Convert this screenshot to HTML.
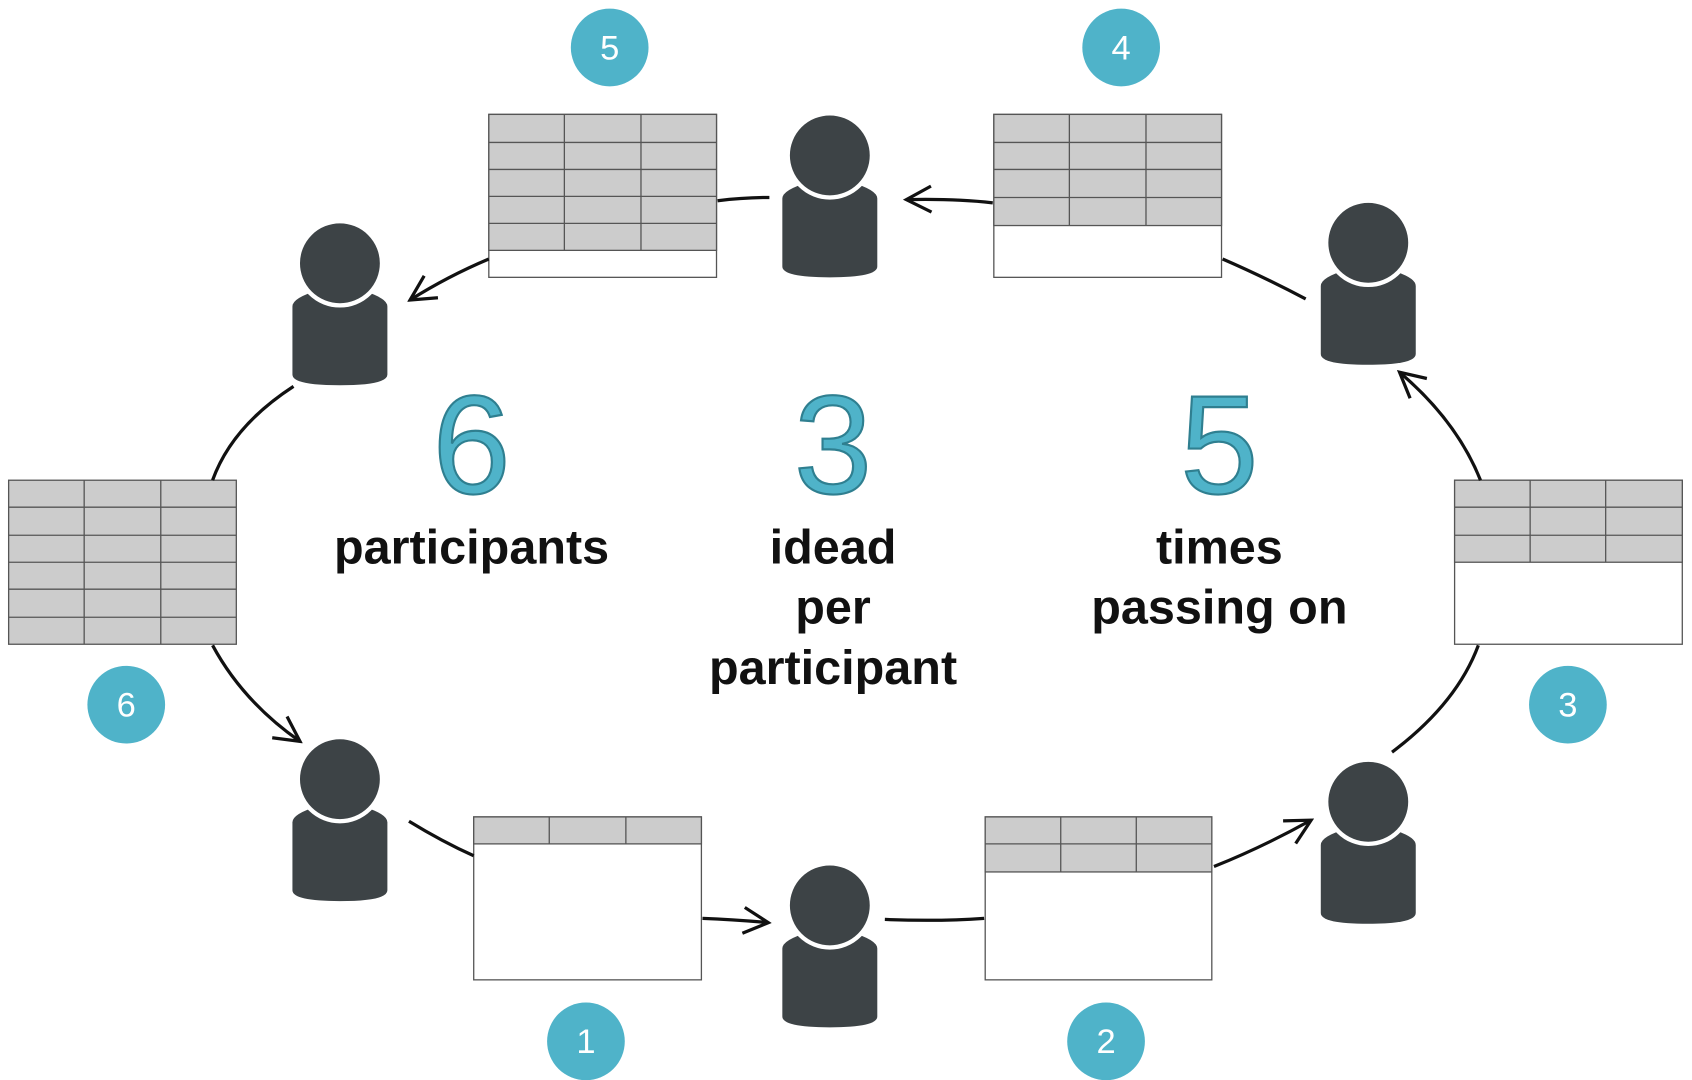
<!DOCTYPE html>
<html><head><style>
html,body{margin:0;padding:0;background:#fff;}
svg{display:block}
text{font-family:"Liberation Sans",sans-serif}
</style></head><body>
<svg width="1692" height="1080" viewBox="0 0 1568 1000.8" preserveAspectRatio="none" xmlns="http://www.w3.org/2000/svg">
<defs>
<g id="p">
<path d="M-44,40 Q-44,32 -20,25 L20,25 Q44,32 44,40 L44,103 Q44,113 0,113 Q-44,113 -44,103 Z" fill="#3d4346"/>
<circle cx="0" cy="0" r="39" fill="#3d4346" stroke="#fff" stroke-width="4"/>
</g>
<marker id="a" viewBox="0 0 30 30" refX="27" refY="15" markerWidth="30" markerHeight="30" markerUnits="userSpaceOnUse" orient="auto">
<path d="M4,3 L27,15 L4,27" fill="none" stroke="#111" stroke-width="3"/>
</marker>
</defs>

<!-- tables -->
<g stroke="#555" stroke-width="1.2">
<!-- T5 -->
<rect x="453" y="106" width="211" height="151" fill="#fff"/>
<rect x="453" y="106" width="211" height="126" fill="#cccccc"/>
<path d="M453,132H664M453,157H664M453,182H664M453,207H664M523,106V232M594,106V232" fill="none"/>
<!-- T4 -->
<rect x="921" y="106" width="211" height="151" fill="#fff"/>
<rect x="921" y="106" width="211" height="103" fill="#cccccc"/>
<path d="M921,132H1132M921,157H1132M921,183H1132M991,106V209M1062,106V209" fill="none"/>
<!-- T6 -->
<rect x="8" y="445" width="211" height="152" fill="#cccccc"/>
<path d="M8,470H219M8,496H219M8,521H219M8,546H219M8,572H219M78,445V597M149,445V597" fill="none"/>
<!-- T3 -->
<rect x="1348" y="445" width="211" height="152" fill="#fff"/>
<rect x="1348" y="445" width="211" height="76" fill="#cccccc"/>
<path d="M1348,470H1559M1348,496H1559M1418,445V521M1488,445V521" fill="none"/>
<!-- T1 -->
<rect x="439" y="757" width="211" height="151" fill="#fff"/>
<rect x="439" y="757" width="211" height="25" fill="#cccccc"/>
<path d="M509,757V782M580,757V782" fill="none"/>
<!-- T2 -->
<rect x="913" y="757" width="210" height="151" fill="#fff"/>
<rect x="913" y="757" width="210" height="51" fill="#cccccc"/>
<path d="M913,782H1123M983,757V808M1053,757V808" fill="none"/>
</g>

<!-- connectors -->
<g fill="none" stroke="#111" stroke-width="3">
<path d="M920,188 Q885,184 840,185" marker-end="url(#a)"/>
<path d="M713,183 Q690,183 665,186"/>
<path d="M453,240 Q415,256 380,278" marker-end="url(#a)"/>
<path d="M272,358 Q215,395 197,445"/>
<path d="M197,598 Q225,650 278,687" marker-end="url(#a)"/>
<path d="M379,761 Q410,780 439,793"/>
<path d="M651,851 Q680,852 712,855" marker-end="url(#a)"/>
<path d="M820,852 Q870,854 912,851"/>
<path d="M1125,803 Q1170,785 1215,760" marker-end="url(#a)"/>
<path d="M1290,697 Q1350,652 1370,598"/>
<path d="M1372,445 Q1350,390 1297,345" marker-end="url(#a)"/>
<path d="M1210,277 Q1170,256 1133,240"/>
</g>

<!-- people -->
<use href="#p" x="769" y="144"/>
<use href="#p" x="315" y="244"/>
<use href="#p" x="1268" y="225"/>
<use href="#p" x="315" y="722"/>
<use href="#p" x="769" y="839"/>
<use href="#p" x="1268" y="743"/>

<!-- badges -->
<g fill="#4fb3c9">
<circle cx="565" cy="44" r="36"/><circle cx="1039" cy="44" r="36"/>
<circle cx="117" cy="653" r="36"/><circle cx="1453" cy="653" r="36"/>
<circle cx="543" cy="965" r="36"/><circle cx="1025" cy="965" r="36"/>
</g>
<g fill="#fff" font-size="32" text-anchor="middle">
<text x="565" y="55">5</text><text x="1039" y="55">4</text>
<text x="117" y="664">6</text><text x="1453" y="664">3</text>
<text x="543" y="976">1</text><text x="1025" y="976">2</text>
</g>

<!-- big numbers -->
<g fill="#4fb3c9" stroke="#2f7f90" stroke-width="2" font-size="130" text-anchor="middle">
<text x="437" y="457">6</text>
<text x="772" y="457">3</text>
<text x="1130" y="457">5</text>
</g>
<g fill="#111" font-size="45" font-weight="bold" text-anchor="middle">
<text x="437" y="522">participants</text>
<text x="772" y="522">idead</text>
<text x="772" y="578">per</text>
<text x="772" y="634">participant</text>
<text x="1130" y="522">times</text>
<text x="1130" y="578">passing on</text>
</g>
</svg>
</body></html>
